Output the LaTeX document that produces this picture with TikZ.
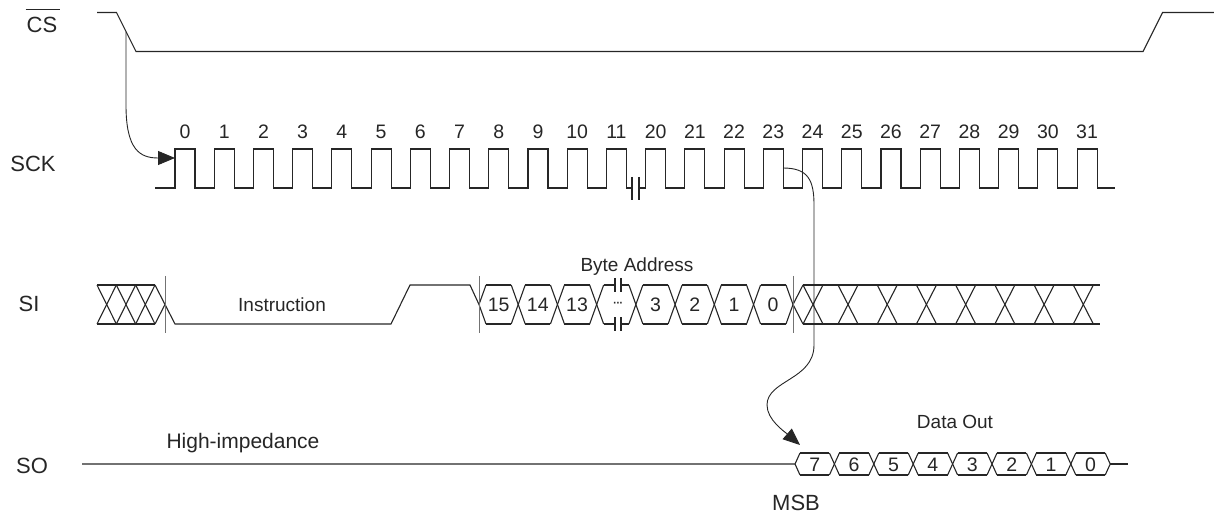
\documentclass[tikz,border=0pt]{standalone}
\usepackage{fontspec}
\setmainfont{Liberation Sans}
\usetikzlibrary{arrows.meta}
\tikzset{
  sig/.style={line width=1.1pt, draw=black!85},
  tickln/.style={line width=1pt, draw=black!55},
  conn/.style={line width=0.9pt, draw=black!85, -{Triangle[length=17pt,width=14pt]}},
  pin/.style={font=\fontsize{22}{22}\selectfont, inner sep=0, anchor=base, text=black!85},
  num/.style={font=\fontsize{19.5}{19.5}\selectfont, inner sep=0, anchor=base, text=black!85},
  txt/.style={font=\fontsize{19}{19}\selectfont, inner sep=0, anchor=base, text=black!85},
}
\begin{document}
\begin{tikzpicture}[x=1pt,y=-1pt]
\useasboundingbox (0,0) rectangle (1214,518);
% ---------- pin labels ----------
\node[pin] (cslbl) at (42,33) {CS};
\draw[sig] ([xshift=-1pt,yshift=8pt]cslbl.north west) -- ([xshift=3pt,yshift=8pt]cslbl.north east);
\node[pin] (scklbl) at (33,172) {SCK};
\node[pin] (silbl) at (29,311) {SI};
\node[pin] (solbl) at (32,473.5) {SO};
% ---------- CS ----------
\draw[sig] (97,12.5) -- (116.5,12.5) -- (136,51.5) -- (1143,51.5) -- (1162.5,12.5) -- (1214,12.5);
\coordinate (csedge) at (126,32);
% ---------- SCK ----------
\draw[sig] (155,188) \foreach \i in {0,...,23}{ -- ({175+39.22*\i},188) -- ({175+39.22*\i},149) -- ({195+39.22*\i},149) -- ({195+39.22*\i},188) } -- (1115,188);
\fill[white] (632.5,183) rectangle (638.5,193);
\draw[sig] (632,177) -- (632,200);
\draw[sig] (639,177) -- (639,200);
\foreach \lab [count=\i from 0] in {0,1,2,3,4,5,6,7,8,9,10,11,20,21,22,23,24,25,26,27,28,29,30,31}
  \node[num] (n\i) at ({185+39.22*\i},138.7) {\lab};
\coordinate (sck0) at (175,158);
\coordinate (sck23) at (783,168);
% ---------- SI ----------
\draw[sig] (97,285) -- (155,285);
\draw[sig] (97,324) -- (155,324);
\foreach \k in {0,1,2}{
  \draw[sig] ({97+19.33*\k},285) -- ({116.33+19.33*\k},324);
  \draw[sig] ({97+19.33*\k},324) -- ({116.33+19.33*\k},285);
}
\draw[sig] (155,285) -- (165,304.5) -- (175,324) -- (391,324) -- (410,285) -- (470,285) -- (479,304.5) -- (486,324);
\draw[sig] (155,324) -- (165,304.5);
\draw[sig] (479,304.5) -- (486,285);
% data hexagons
\foreach \k in {0,...,7}{
  \draw[sig] ({479+39.22*\k+7},285) -- ({479+39.22*(\k+1)-7},285);
  \draw[sig] ({479+39.22*\k+7},324) -- ({479+39.22*(\k+1)-7},324);
}
\foreach \k in {1,...,7}{
  \draw[sig] ({479+39.22*\k-7},285) -- ({479+39.22*\k+7},324);
  \draw[sig] ({479+39.22*\k-7},324) -- ({479+39.22*\k+7},285);
}
\draw[sig] (786,285) -- (793,304.5) -- (803,324);
\draw[sig] (786,324) -- (793,304.5) -- (803,285);
% break in the "..." cell
\fill[white] (615.5,280) rectangle (620.5,290);
\fill[white] (615.5,319) rectangle (620.5,329);
\draw[sig] (615,278) -- (615,292);
\draw[sig] (621,278) -- (621,292);
\draw[sig] (615,317) -- (615,331);
\draw[sig] (621,317) -- (621,331);
\foreach \lab [count=\k from 0] in {15,14,13}
  \node[num] (si\k) at ({479+39.22*\k+19.61},312) {\lab};
\node[inner sep=0, text=black!85, font=\fontsize{16}{16}\selectfont] (sidots) at (618,304.5) {\textperiodcentered\kern-2.2pt\textperiodcentered\kern-2.2pt\textperiodcentered};
\foreach \lab [count=\k from 4] in {3,2,1,0}
  \node[num] (si\k) at ({479+39.22*\k+19.61},312) {\lab};
% right don't care
\draw[sig] (803,285) -- (1100,285);
\draw[sig] (803,324) -- (1100,324);
\draw[sig] (803,285) -- (823,324);
\draw[sig] (803,324) -- (823,285);
\foreach \j in {0,...,6}{
  \draw[sig] ({838+39.22*\j},285) -- ({858+39.22*\j},324);
  \draw[sig] ({838+39.22*\j},324) -- ({858+39.22*\j},285);
}
% ticks
\draw[tickln] (165,276) -- (165,333);
\draw[tickln] (479,276) -- (479,333);
\draw[tickln] (793,276) -- (793,333);
\node[txt] (instr) at (282,311.7) {Instruction};
\node[txt] (byteaddr) at (637,271.7) {Byte Address};
% ---------- SO ----------
\draw[sig] (82,464) -- (795,464) -- (800,453);
\draw[sig] (795,464) -- (800,475);
\foreach \k in {0,...,7}{
  \draw[sig] ({795+39.4*\k+5},453) -- ({795+39.4*(\k+1)-5},453);
  \draw[sig] ({795+39.4*\k+5},475) -- ({795+39.4*(\k+1)-5},475);
}
\foreach \k in {1,...,7}{
  \draw[sig] ({795+39.4*\k-5},453) -- ({795+39.4*\k+5},475);
  \draw[sig] ({795+39.4*\k-5},475) -- ({795+39.4*\k+5},453);
}
\draw[sig] (1105.2,453) -- (1110.2,464) -- (1105.2,475);
\draw[sig] (1110.2,464) -- (1128,464);
\foreach \lab [count=\k from 0] in {7,6,5,4,3,2,1,0}
  \node[num] (so\k) at ({795+39.4*\k+19.7},471.5) {\lab};
\coordinate (so7) at (800,445);
\node[txt,font=\fontsize{21}{21}\selectfont] (hiz) at (243,448) {High-impedance};
\node[txt] (dataout) at (955,428) {Data Out};
\node[pin] (msb) at (796,510) {MSB};
% ---------- connectors ----------
\draw[conn] (csedge) -- (126,105) .. controls (126,150) and (140,158) .. (sck0);
\draw[conn] (sck23) .. controls (808,168) and (814,180) .. (814,205) -- (814,345)
  .. controls (814,380) and (767,380) .. (767,405) .. controls (767,420) and (785,432) .. (so7);
\end{tikzpicture}
\end{document}
